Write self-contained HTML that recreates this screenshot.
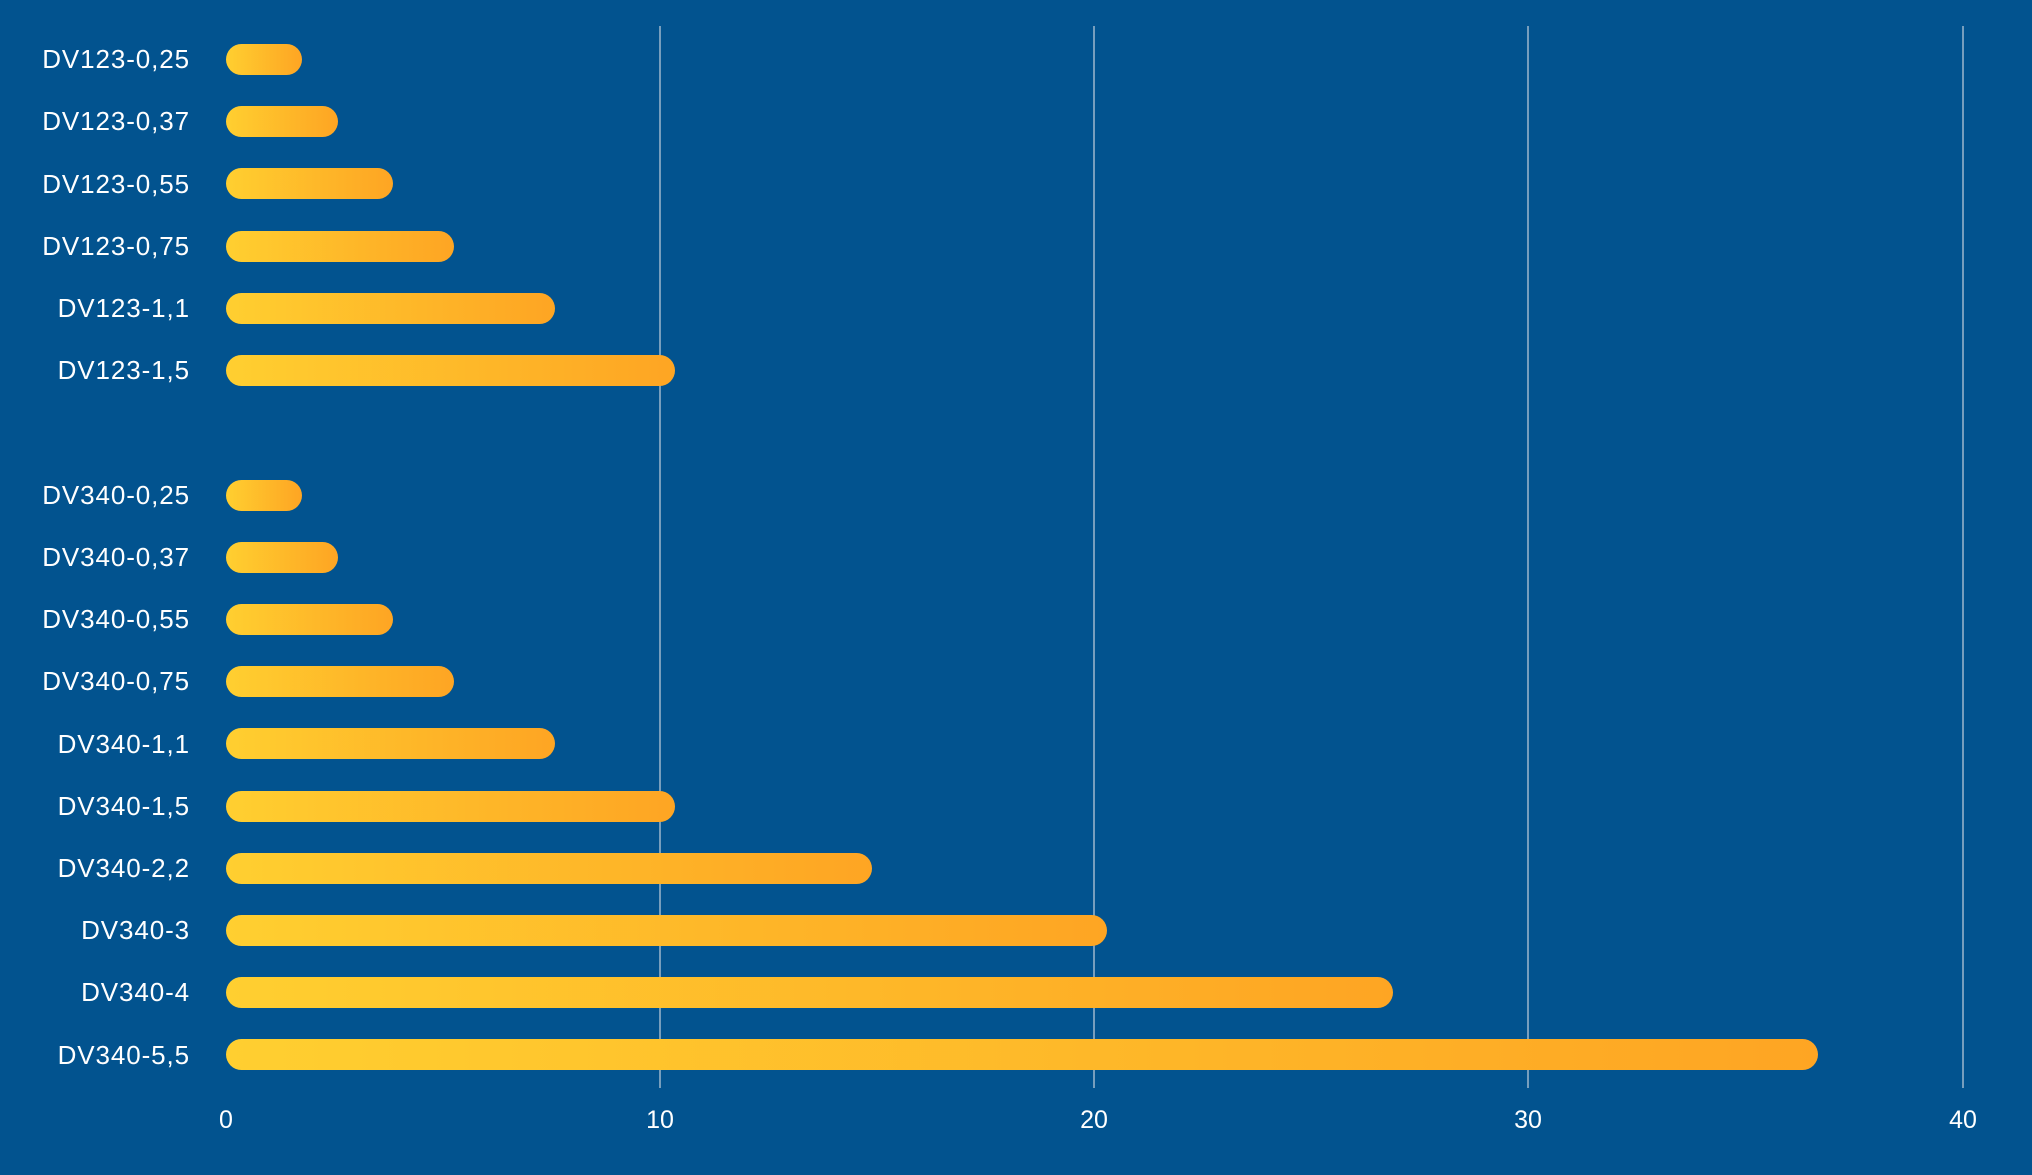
<!DOCTYPE html>
<html><head><meta charset="utf-8"><style>
html,body{margin:0;padding:0;background:#02538f;}
svg{display:block}
text{font-family:"Liberation Sans",sans-serif;fill:#fff;font-size:25px}
.lab text{font-size:26px;letter-spacing:0.9px}
</style></head><body>
<svg width="2032" height="1175" viewBox="0 0 2032 1175">
<defs><linearGradient id="g" x1="0" x2="1" y1="0" y2="0">
<stop offset="0" stop-color="#ffcf30"/><stop offset="1" stop-color="#fea523"/></linearGradient></defs>
<rect width="2032" height="1175" fill="#02538f"/>
<g stroke="#c5d0dc" stroke-width="1.2">
<line x1="660" y1="26" x2="660" y2="1088"/>
<line x1="1094" y1="26" x2="1094" y2="1088"/>
<line x1="1528" y1="26" x2="1528" y2="1088"/>
<line x1="1963" y1="26" x2="1963" y2="1088"/>
</g>
<g text-anchor="middle">
<text x="226" y="1128">0</text>
<text x="660" y="1128">10</text>
<text x="1094" y="1128">20</text>
<text x="1528" y="1128">30</text>
<text x="1963" y="1128">40</text>
</g>
<g text-anchor="end" class="lab">
<text x="190" y="68">DV123-0,25</text>
<text x="190" y="130">DV123-0,37</text>
<text x="190" y="193">DV123-0,55</text>
<text x="190" y="255">DV123-0,75</text>
<text x="190" y="317">DV123-1,1</text>
<text x="190" y="379">DV123-1,5</text>
<text x="190" y="504">DV340-0,25</text>
<text x="190" y="566">DV340-0,37</text>
<text x="190" y="628">DV340-0,55</text>
<text x="190" y="690">DV340-0,75</text>
<text x="190" y="753">DV340-1,1</text>
<text x="190" y="815">DV340-1,5</text>
<text x="190" y="877">DV340-2,2</text>
<text x="190" y="939">DV340-3</text>
<text x="190" y="1001">DV340-4</text>
<text x="190" y="1064">DV340-5,5</text>
</g>
<g fill="url(#g)">
<rect x="226" y="44" width="76" height="31" rx="15.5"/>
<rect x="226" y="106" width="112" height="31" rx="15.5"/>
<rect x="226" y="168" width="167" height="31" rx="15.5"/>
<rect x="226" y="231" width="228" height="31" rx="15.5"/>
<rect x="226" y="293" width="329" height="31" rx="15.5"/>
<rect x="226" y="355" width="449" height="31" rx="15.5"/>
<rect x="226" y="480" width="76" height="31" rx="15.5"/>
<rect x="226" y="542" width="112" height="31" rx="15.5"/>
<rect x="226" y="604" width="167" height="31" rx="15.5"/>
<rect x="226" y="666" width="228" height="31" rx="15.5"/>
<rect x="226" y="728" width="329" height="31" rx="15.5"/>
<rect x="226" y="791" width="449" height="31" rx="15.5"/>
<rect x="226" y="853" width="646" height="31" rx="15.5"/>
<rect x="226" y="915" width="881" height="31" rx="15.5"/>
<rect x="226" y="977" width="1167" height="31" rx="15.5"/>
<rect x="226" y="1039" width="1592" height="31" rx="15.5"/>
</g>
</svg>
</body></html>
